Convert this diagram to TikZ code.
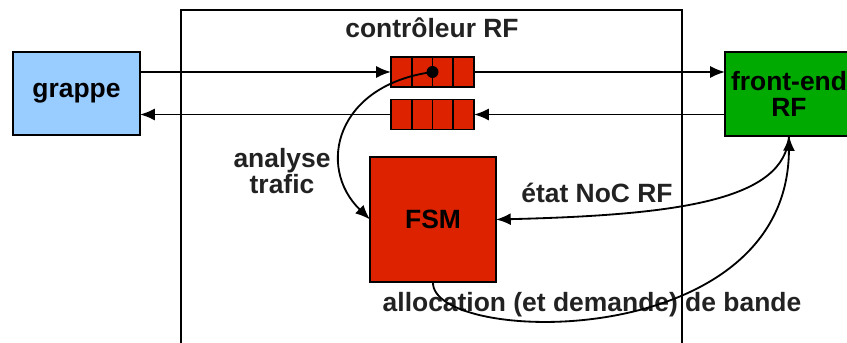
\documentclass[tikz,border=0pt]{standalone}
\usepackage{fontspec}
\setmainfont{Liberation Sans}
\usetikzlibrary{arrows.meta,calc}
\definecolor{grappeblue}{HTML}{99CCFF}
\definecolor{feGreen}{HTML}{00AA00}
\definecolor{fifored}{HTML}{DD2200}
\definecolor{labelgray}{HTML}{222222}
\newcommand\bigbf{\fontsize{18.8}{21}\selectfont\bfseries}
\tikzset{
  box/.style={draw,line width=1.3pt,align=center,font=\bigbf,inner sep=0pt,outer sep=0pt},
  queue/.style={draw,fill=fifored,line width=1.3pt,minimum width=2.075cm,minimum height=0.75cm,inner sep=0pt,outer sep=0pt},
  flow/.style={line width=1.3pt,-{Latex[length=10.5pt,width=8.5pt]}},
  lbl/.style={font=\bigbf,text=labelgray,align=center}
}
\begin{document}
\begin{tikzpicture}
\useasboundingbox (0,0) rectangle (21.175,8.575);

\draw[line width=1.3pt] (4.525,-0.2) -- (4.525,8.325) -- (17.05,8.325) -- (17.05,-0.2);
\node[lbl] (title) at (10.8,7.88) {contrôleur RF};

\node[box,fill=grappeblue,minimum width=3.175cm,minimum height=2.075cm] (grappe) at (1.9125,6.2375) {grappe};
\node[box,fill=feGreen,minimum width=3.2cm,minimum height=2.1cm] (fe) at (19.725,6.225) {front-end\\[-2pt]RF};

\node[queue] (q1) at (10.8125,6.775) {};
\node[queue] (q2) at (10.8125,5.7125) {};
\foreach \q in {q1,q2}
  \foreach \i in {1,2,3}
    \draw[line width=1.3pt] ($(\q.north west)!\i/4!(\q.north east)$) -- ($(\q.south west)!\i/4!(\q.south east)$);
\node[circle,fill,inner sep=0pt,minimum size=0.3cm] (dot) at (q1.center) {};

\node[box,fill=fifored,minimum width=3.15cm,minimum height=3.125cm] (fsm) at (10.825,3.0875) {FSM};

\draw[flow] (grappe.east |- q1.west) -- (q1.west);
\draw[flow] (q1.east) -- (q1.east -| fe.west);
\draw[flow] (fe.west |- q2.east) -- (q2.east);
\draw[flow] (q2.west) -- (q2.west -| grappe.east);

\draw[flow] (dot.center) .. controls (8.4,6.45) and (7.9,4.4) .. (fsm.west);
\node[lbl] (analyse) at (7.05,4.3) {analyse\\[-2pt]trafic};

\draw[flow] (fe.south) .. controls (19.625,3.575) and (17.0,3.2) .. (fsm.east);
\node[lbl] (etat) at (14.925,3.75) {état NoC RF};

\node[lbl] (alloc) at (14.8,0.95) {allocation (et demande) de bande};
\draw[flow] (fsm.south) .. controls (10.75,-0.05) and (19.7,-0.3) .. (fe.south);
\end{tikzpicture}
\end{document}
